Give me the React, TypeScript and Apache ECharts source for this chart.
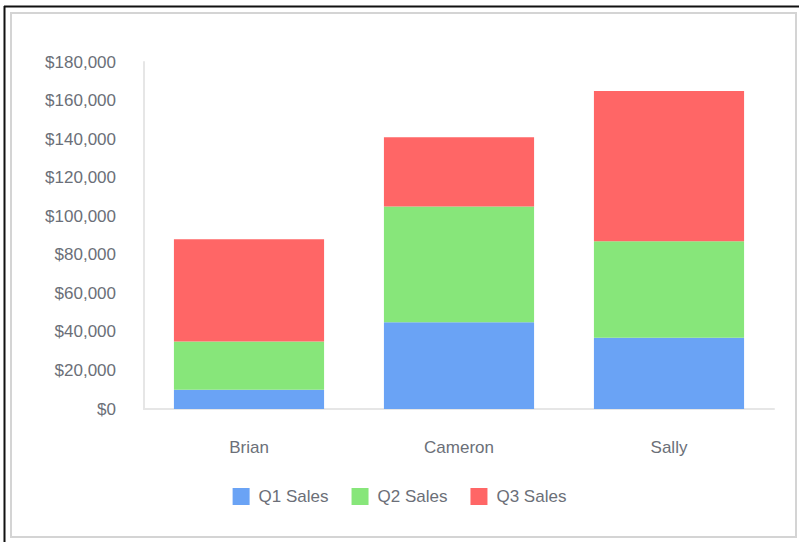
import React, { useEffect, useRef } from "react";
import * as echarts from "echarts";

const categories = ["Brian", "Cameron", "Sally"];
const q1Sales = [10000, 45000, 37000];
const q2Sales = [25000, 60000, 50000];
const q3Sales = [53000, 36000, 78000];
const seriesNames = ["Q1 Sales", "Q2 Sales", "Q3 Sales"];
const seriesColors = ["#6aa3f5", "#87e67a", "#ff6666"];

export default function App() {
  const ref = useRef<HTMLDivElement>(null);
  useEffect(() => {
    if (!ref.current) return;
    const chart = echarts.init(ref.current, null, { renderer: "svg" });
    const font = "'Liberation Sans', Arial, Helvetica, sans-serif";
    const data = [q1Sales, q2Sales, q3Sales];
    chart.setOption({
      animation: false,
      backgroundColor: "#ffffff",
      textStyle: { fontFamily: font },
      graphic: [
        {
          type: "rect",
          shape: { x: 11, y: 13, width: 785, height: 524 },
          style: { fill: "#ffffff", stroke: "#d4d4d4", lineWidth: 2 },
          z: -10,
        },
        {
          type: "line",
          shape: { x1: 4.5, y1: 6, x2: 4.5, y2: 542 },
          style: { stroke: "#111111", lineWidth: 2 },
        },
        {
          type: "line",
          shape: { x1: 4, y1: 6.5, x2: 799, y2: 6.5 },
          style: { stroke: "#111111", lineWidth: 2 },
        },
      ],
      grid: { left: 144, top: 62, right: 25, bottom: 133 },
      legend: {
        data: seriesNames,
        bottom: 32,
        left: "center",
        itemWidth: 17,
        itemHeight: 17,
        itemGap: 23,
        icon: "rect",
        textStyle: {
          fontSize: 17,
          color: "#6b6f78",
          fontFamily: font,
          padding: [0, 0, 0, 4],
        },
      },
      xAxis: {
        type: "category",
        data: categories,
        axisLine: { lineStyle: { color: "#e6e6e6", width: 2 } },
        axisTick: { show: false },
        axisLabel: { fontSize: 17, color: "#6b6f78", margin: 30, fontFamily: font },
      },
      yAxis: {
        type: "value",
        min: 0,
        max: 180000,
        interval: 20000,
        axisLine: { show: true, lineStyle: { color: "#e6e6e6", width: 2 } },
        axisTick: { show: false },
        splitLine: { show: false },
        axisLabel: {
          fontSize: 17,
          color: "#6b6f78",
          margin: 28,
          fontFamily: font,
          formatter: (v: number) => "$" + v.toLocaleString("en-US"),
        },
      },
      series: seriesNames.map((name, i) => ({
        name,
        type: "bar",
        stack: "total",
        barWidth: "71.5%",
        data: data[i],
        itemStyle: { color: seriesColors[i] },
      })),
    });
    return () => chart.dispose();
  }, []);
  return (
    <div
      ref={ref}
      style={{ position: "absolute", left: 0, top: 0, width: 799, height: 542 }}
    />
  );
}
